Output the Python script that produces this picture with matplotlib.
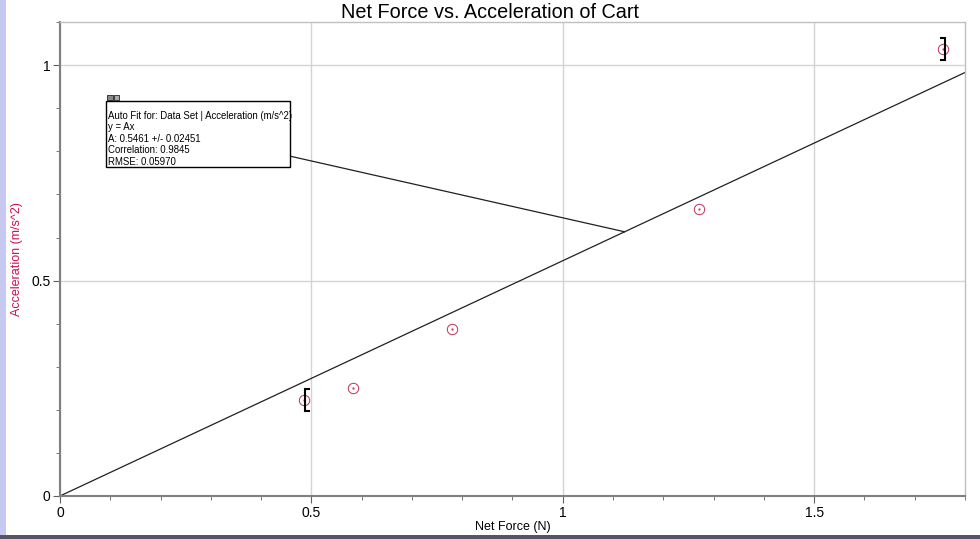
import numpy as np
import matplotlib.pyplot as plt
from matplotlib.ticker import MultipleLocator
from matplotlib.patches import Rectangle

plt.rcParams['font.family'] = ['Liberation Sans', 'DejaVu Sans']

# Data
net_force = [0.485, 0.583, 0.779, 1.270, 1.757]
acceleration = [0.223, 0.251, 0.388, 0.667, 1.037]
fit_A = 0.5461
fit_lines = ["Auto Fit for: Data Set | Acceleration (m/s^2)",
             "y = Ax",
             "A: 0.5461 +/- 0.02451",
             "Correlation: 0.9845",
             "RMSE: 0.05970"]

fig = plt.figure(figsize=(9.8, 5.39), dpi=100)
ax = fig.add_axes([0.0612, 0.0798, 0.9235, 0.8792])

ax.set_xlim(0, 1.8)
ax.set_ylim(0, 1.1)
ax.xaxis.set_major_locator(MultipleLocator(0.5))
ax.xaxis.set_minor_locator(MultipleLocator(0.1))
ax.yaxis.set_major_locator(MultipleLocator(0.5))
ax.yaxis.set_minor_locator(MultipleLocator(0.1))
ax.xaxis.set_major_formatter(plt.FuncFormatter(lambda v, p: f"{v:g}"))
ax.yaxis.set_major_formatter(plt.FuncFormatter(lambda v, p: f"{v:g}"))
ax.grid(True, which='major', color='#d4d4d4', lw=1)
ax.set_axisbelow(True)
ax.tick_params(which='major', length=5, labelsize=10, color='#606060', pad=2)
ax.tick_params(which='minor', length=3, color='#606060')
for s in ['left', 'bottom']:
    ax.spines[s].set_color('#808080')
    ax.spines[s].set_linewidth(1.5)
for s in ['top', 'right']:
    ax.spines[s].set_color('#c0c0c0')
    ax.spines[s].set_linewidth(1)

# fit line
xf = np.array([0, 1.8])
ax.plot(xf, fit_A * xf, color='#202020', lw=0.9)

# data points: open circle with a centre dot
ax.plot(net_force, acceleration, 'o', ms=7.5, mfc='none', mec='#c03050', mew=0.7)
ax.plot(net_force, acceleration, '.', ms=1.2, color='#c03050')

# selection brackets at the first and last point
def bracket(x, y, dx, side):
    tr = ax.transData
    px, py = tr.transform((x, y))
    h = 11
    cap = 4 * side
    pts = np.array([[px + dx + cap, py + h], [px + dx, py + h],
                    [px + dx, py - h], [px + dx + cap, py - h]])
    d = tr.inverted().transform(pts)
    ax.plot(d[:, 0], d[:, 1], color='black', lw=1.5, clip_on=False,
            solid_joinstyle='miter')

bracket(net_force[0], acceleration[0], 1, 1)
bracket(net_force[-1], acceleration[-1], 2, -1)

fig.text(0.5, 0.967, "Net Force vs. Acceleration of Cart", fontsize=14.3,
         ha='center', va='baseline')
ax.set_xlabel("Net Force (N)", fontsize=9, labelpad=1)
ax.set_ylabel("Acceleration (m/s^2)", fontsize=9, color='#cc1050')
ax.yaxis.set_label_coords(-0.041, 0.5)

# fit annotation box with leader line
bx0, by1 = 0.0915, 0.918
bx1, by0 = 0.457, 0.764
ax.plot([bx1, 1.123], [0.789, fit_A * 1.123], color='#202020', lw=0.9)
ax.add_patch(Rectangle((bx0, by0), bx1 - bx0, by1 - by0, facecolor='white',
                       edgecolor='black', lw=1, zorder=5))
ax.text(bx0 + 0.005, by1 - 0.024, "\n".join(fit_lines), fontsize=6.9,
        va='top', ha='left', linespacing=1.18, zorder=6)
ax.add_patch(Rectangle((bx0 + 0.003, by1 + 0.001), 0.010, 0.012, facecolor='#888888',
                       edgecolor='black', lw=0.5, zorder=6, clip_on=False))
ax.add_patch(Rectangle((bx0 + 0.015, by1 + 0.001), 0.010, 0.012, facecolor='#aaaaaa',
                       edgecolor='black', lw=0.5, zorder=6, clip_on=False))

# window borders
fig.add_artist(Rectangle((0, 0), 0.006, 1, transform=fig.transFigure,
                         facecolor='#c8c8f4', edgecolor='none', zorder=-1))
fig.add_artist(Rectangle((0, 0), 1, 0.008, transform=fig.transFigure,
                         facecolor='#555566', edgecolor='none'))

fig.savefig("out.png", dpi=100)
